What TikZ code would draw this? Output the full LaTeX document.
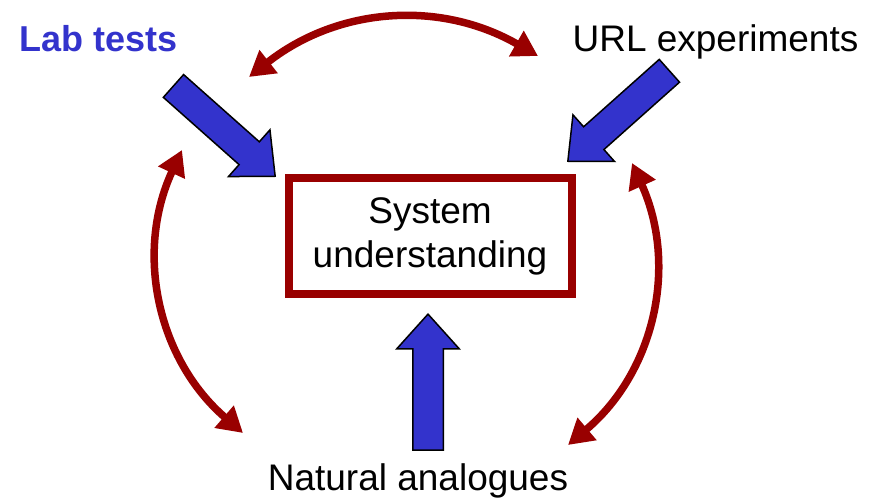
\documentclass[tikz,border=0pt]{standalone}
\usepackage{fontspec}
\setmainfont{Liberation Sans}
\usetikzlibrary{arrows.meta,shapes.arrows}
\definecolor{darkred2}{RGB}{153,0,0}
\definecolor{blue2}{RGB}{51,51,204}
\newcommand{\labelsize}{\fontsize{37}{44}\selectfont}

\tikzset{
  blockarrow/.style={single arrow, draw=black, fill=blue2, line width=1.5pt,
    minimum height=136pt, inner xsep=0pt, inner ysep=14.5pt,
    single arrow head extend=16pt, single arrow tip angle=84, anchor=tip},
  roundtrip/.style={draw=darkred2, line width=7.5pt,
    {Triangle[length=25pt,width=28pt]}-{Triangle[length=25pt,width=28pt]}},
}

\begin{document}
\begin{tikzpicture}[x=1pt, y=1pt, font=\labelsize]
    \useasboundingbox (0,0) rectangle (872,500);
    \node[draw=darkred2, line width=8pt, minimum width=283pt, minimum height=116pt, inner sep=0pt, align=center] (sys) at (430,264) {System\\understanding};
    \node[anchor=base, text=blue2, font=\fontsize{36}{44}\selectfont\bfseries] (lab) at (98.5,448) {Lab tests};
    \node[anchor=base] (url) at (715.5,448) {URL experiments};
    \node[anchor=base] (nat) at (418,9) {Natural analogues};
    \node[blockarrow, rotate=-41.6] (labarrow) at (276,323) {};
    \node[blockarrow, rotate=-138.3] (urlarrow) at (567,338) {};
    \node[blockarrow, rotate=90] (natarrow) at (428,187) {};
    \coordinate (lab-e) at (249,423);
    \coordinate (url-w) at (538,444);
    \coordinate (lab-s) at (182,350);
    \coordinate (nat-w) at (243,67);
    \coordinate (url-s) at (632,337);
    \coordinate (nat-e) at (568,55);
    \draw[roundtrip] (lab-e) to[bend left=34] (url-w);
    \draw[roundtrip] (nat-w) to[bend left=37] (lab-s);
    \draw[roundtrip] (url-s) to[bend left=37] (nat-e);
\end{tikzpicture}
\end{document}
